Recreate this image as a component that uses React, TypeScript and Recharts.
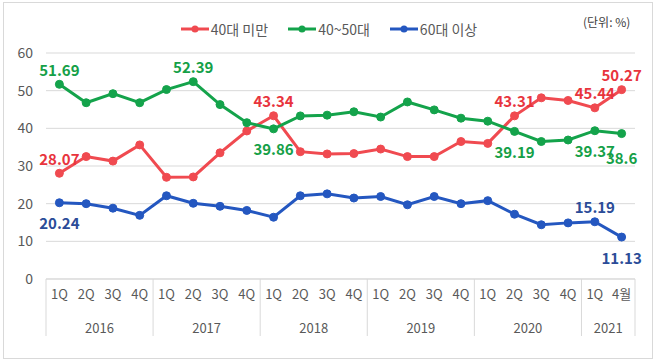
import { CartesianGrid, LabelList, Line, LineChart, XAxis, YAxis } from "recharts";

const periods = ["1Q", "2Q", "3Q", "4Q", "1Q", "2Q", "3Q", "4Q", "1Q", "2Q", "3Q", "4Q", "1Q", "2Q", "3Q", "4Q", "1Q", "2Q", "3Q", "4Q", "1Q", "4월"];
const years = ["2016", "2016", "2016", "2016", "2017", "2017", "2017", "2017", "2018", "2018", "2018", "2018", "2019", "2019", "2019", "2019", "2020", "2020", "2020", "2020", "2021", "2021"];
const under40 = [28.07, 32.5, 31.3, 35.6, 27.0, 27.1, 33.5, 39.3, 43.34, 33.8, 33.2, 33.3, 34.5, 32.5, 32.5, 36.5, 36.0, 43.31, 48.1, 47.4, 45.44, 50.27];
const age4050 = [51.69, 46.8, 49.2, 46.8, 50.3, 52.39, 46.3, 41.5, 39.86, 43.3, 43.5, 44.4, 43.0, 47.0, 44.9, 42.7, 41.9, 39.19, 36.5, 36.9, 39.37, 38.6];
const over60 = [20.24, 20.0, 18.8, 16.9, 22.1, 20.1, 19.3, 18.2, 16.4, 22.1, 22.6, 21.5, 21.9, 19.7, 21.9, 20.0, 20.8, 17.2, 14.4, 14.9, 15.19, 11.13];
const yTicks = [0, 10, 20, 30, 40, 50, 60];

type Side = "top" | "bottom" | "low";
// which points get a value label, and on which side
const under40Labels: Record<number, Side> = { 0: "top", 8: "top", 17: "top", 20: "top", 21: "top" };
const age4050Labels: Record<number, Side> = { 0: "top", 5: "top", 8: "bottom", 17: "bottom", 20: "bottom", 21: "low" };
const over60Labels: Record<number, Side> = { 0: "bottom", 20: "top", 21: "bottom" };

const data = periods.map((p, i) => ({ period: p, year: years[i], under40: under40[i], age4050: age4050[i], over60: over60[i] }));

const W = 658;
const H = 361;
const M = { top: 53, right: 23, bottom: 22, left: 0 };
const Y_W = 46;
const PLOT_W = W - M.left - M.right - Y_W;
const STEP = PLOT_W / data.length;
const FONT = "'Noto Sans CJK KR', 'Noto Sans', sans-serif";
const SIDE_DY: Record<Side, number> = { top: -15, bottom: 20, low: 24 };

const series = [
  { key: "under40", name: "40대 미만", color: "#F04A50", labelColor: "#E8343D", labels: under40Labels },
  { key: "age4050", name: "40~50대", color: "#14A34B", labelColor: "#15A047", labels: age4050Labels },
  { key: "over60", name: "60대 이상", color: "#2457C0", labelColor: "#2B4C98", labels: over60Labels },
];

const makeLabel = (labels: Record<number, Side>, color: string) => (props: any) => {
  const { x, y, index, value } = props;
  const side = labels[index];
  if (!side) return null;
  return (
    <text x={x} y={y + SIDE_DY[side]} textAnchor="middle" dominantBaseline="central" fill={color} fontSize={15} fontWeight={700} fontFamily={FONT}>
      {value}
    </text>
  );
};

const PeriodTick = (props: any) => {
  const { x, y, payload } = props;
  const i = payload.index;
  const yr = years[i];
  const first = i === 0 || years[i - 1] !== yr;
  const last = i === years.length - 1;
  const count = years.filter((v) => v === yr).length;
  return (
    <g>
      <text x={x} y={y + 14} textAnchor="middle" dominantBaseline="central" fill="#595959" fontSize={13} fontFamily={FONT}>
        {payload.value}
      </text>
      {first && (
        <>
          <line x1={x - STEP / 2} x2={x - STEP / 2} y1={y} y2={y + 57} stroke="#D9D9D9" />
          <text x={x - STEP / 2 + (count * STEP) / 2} y={y + 48} textAnchor="middle" dominantBaseline="central" fill="#595959" fontSize={13} fontFamily={FONT}>
            {yr}
          </text>
        </>
      )}
      {last && <line x1={x + STEP / 2} x2={x + STEP / 2} y1={y} y2={y + 57} stroke="#D9D9D9" />}
    </g>
  );
};

const LegendBox = () => (
  <div style={{ position: "absolute", left: 0, top: 19, width: W, display: "flex", justifyContent: "center", gap: 20, fontFamily: FONT, fontSize: 14, color: "#595959" }}>
    {series.map((s) => (
      <div key={s.key} style={{ display: "flex", alignItems: "center" }}>
        <svg width={28} height={10} style={{ marginRight: 2 }}>
          <line x1={0} x2={28} y1={5} y2={5} stroke={s.color} strokeWidth={3} />
          <circle cx={14} cy={5} r={3.5} fill={s.color} />
        </svg>
        <span>{s.name}</span>
      </div>
    ))}
  </div>
);

export default function App() {
  return (
    <div style={{ position: "absolute", left: 0, top: 0, width: W, height: H, background: "#fff" }}>
      <div style={{ position: "absolute", left: 3, top: 2, width: 648, height: 355, border: "1px solid #D9D9D9" }} />
      <div style={{ position: "absolute", left: 583, top: 13, fontFamily: FONT, fontSize: 12, color: "#404040" }}>(단위: %)</div>
      <LegendBox />
      <LineChart width={W} height={H} data={data} margin={M} style={{ position: "absolute", left: 0, top: 0 }}>
        <CartesianGrid vertical={false} stroke="#D9D9D9" />
        <XAxis dataKey="period" interval={0} padding={{ left: STEP / 2, right: STEP / 2 }} tickLine={false} axisLine={{ stroke: "#D9D9D9" }} tick={<PeriodTick />} tickSize={0} tickMargin={0} height={60} />
        <YAxis domain={[0, 60]} ticks={yTicks} width={Y_W} axisLine={false} tickLine={false} tickMargin={7} tick={{ fill: "#595959", fontSize: 14, fontFamily: FONT }} />
        {series.map((s) => (
          <Line key={s.key} dataKey={s.key} name={s.name} stroke={s.color} strokeWidth={3} dot={{ r: 4, fill: s.color, stroke: s.color, strokeWidth: 1 }} isAnimationActive={false}>
            <LabelList dataKey={s.key} content={makeLabel(s.labels, s.labelColor)} />
          </Line>
        ))}
      </LineChart>
    </div>
  );
}
